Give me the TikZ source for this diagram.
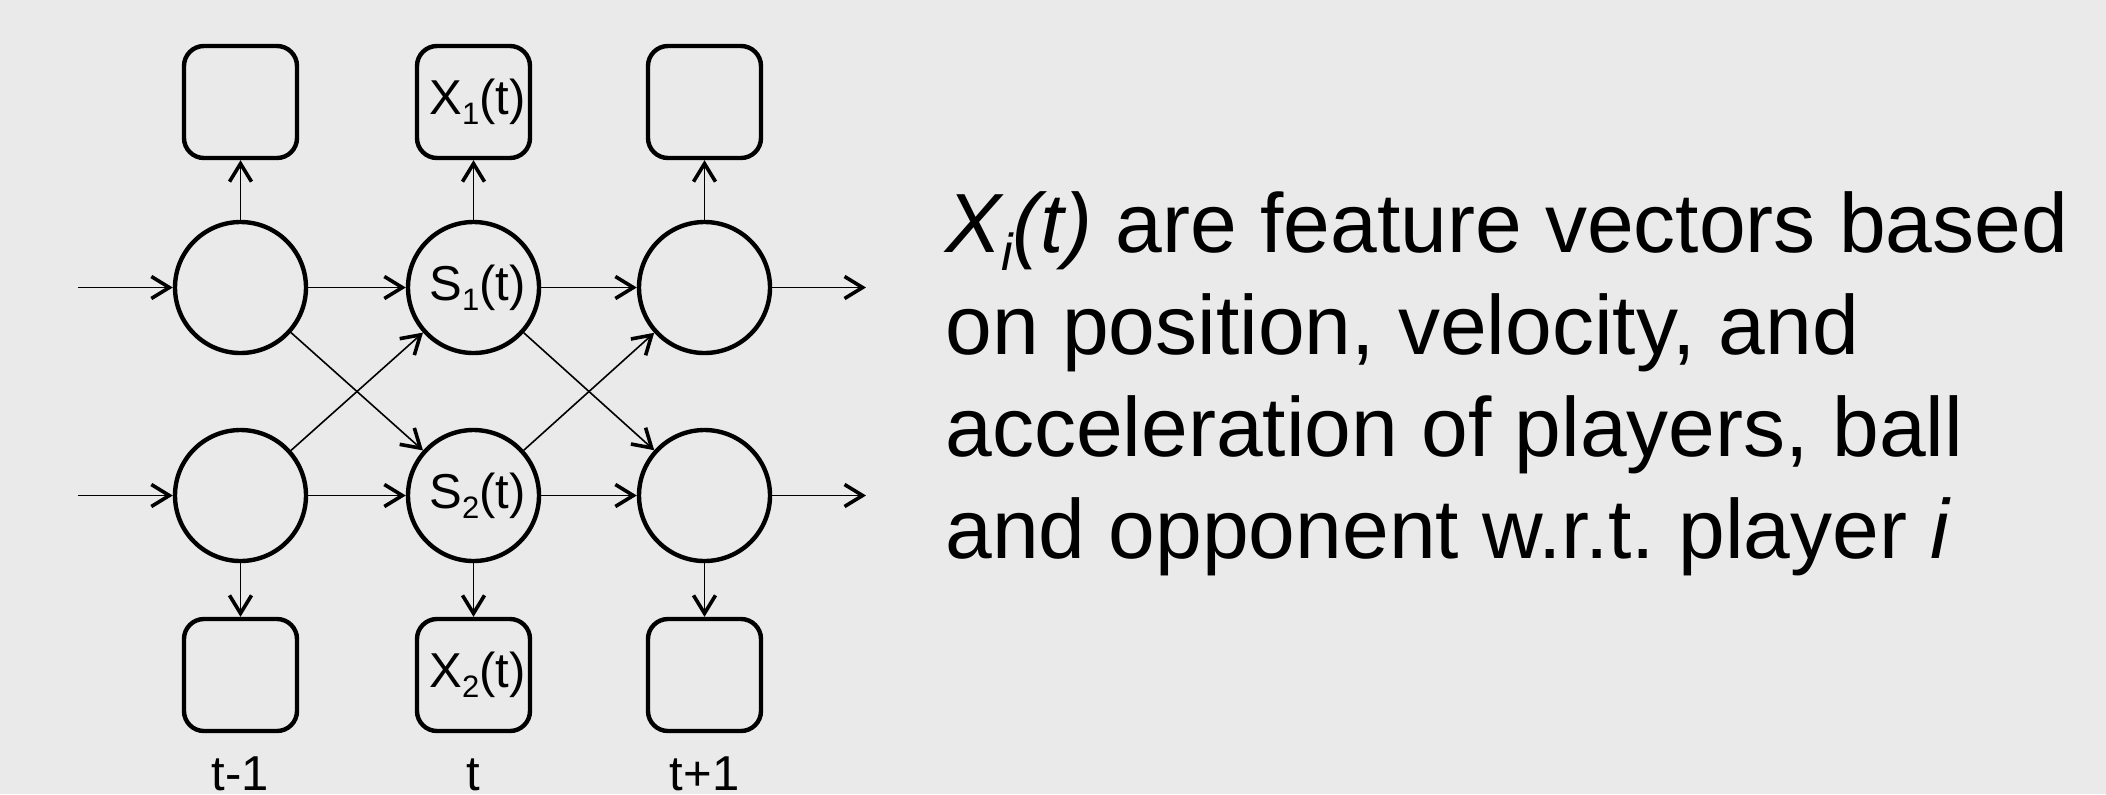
\documentclass[tikz,border=0pt]{standalone}
\usepackage{fontspec}
\setmainfont{Liberation Sans}
\usetikzlibrary{arrows.meta}
\definecolor{bg}{HTML}{EAEAEA}
\frenchspacing
\newcommand\smsub[1]{\raisebox{-5pt}{\fontsize{15.5}{16}\selectfont #1}}
\newcommand\bigsub[1]{\raisebox{-9pt}{\fontsize{26}{28}\selectfont #1}}
\begin{document}
\begin{tikzpicture}[x=0.5pt,y=-0.5pt,
  state/.style={circle,draw,line width=2.2pt,minimum size=65.5pt,inner sep=0pt,font=\fontsize{24.5}{28}\selectfont},
  obs/.style={rectangle,rounded corners=10pt,draw,line width=2.2pt,minimum width=56.5pt,minimum height=56pt,inner sep=0pt,font=\fontsize{24.5}{28}\selectfont},
  arr/.style={line width=0.8pt,-{Straight Barb[length=9pt,width=11pt,line width=1.8pt]}},
  lbl/.style={anchor=base,font=\fontsize{24.5}{28}\selectfont},
  txt/.style={anchor=base west,font=\fontsize{42}{51}\selectfont,inner sep=0pt}]
\fill[bg] (0,0) rectangle (2106,794);
\useasboundingbox (0,0) rectangle (2106,794);
% states
\node[state] (a1) at (240.5,287.5) {};
\node[state] (b1) at (473.5,287.5) {\hspace{4pt}S\smsub{1}(t)};
\node[state] (c1) at (704.5,287.5) {};
\node[state] (a2) at (240.5,495.5) {};
\node[state] (b2) at (473.5,495.5) {\hspace{4pt}S\smsub{2}(t)};
\node[state] (c2) at (704.5,495.5) {};
% observations
\node[obs] (oa1) at (240.5,102) {};
\node[obs] (ob1) at (473.5,102) {\hspace{4pt}X\smsub{1}(t)};
\node[obs] (oc1) at (704.5,102) {};
\node[obs] (oa2) at (240.5,675) {};
\node[obs] (ob2) at (473.5,675) {\hspace{4pt}X\smsub{2}(t)};
\node[obs] (oc2) at (704.5,675) {};
% free ends
\coordinate (in1) at (78,287.5);
\coordinate (in2) at (78,495.5);
\coordinate (out1) at (866,287.5);
\coordinate (out2) at (866,495.5);
% connectors
\draw[arr] (in1) -- (a1);
\draw[arr] (a1) -- (b1);
\draw[arr] (b1) -- (c1);
\draw[arr] (c1) -- (out1);
\draw[arr] (in2) -- (a2);
\draw[arr] (a2) -- (b2);
\draw[arr] (b2) -- (c2);
\draw[arr] (c2) -- (out2);
\draw[arr] (a1) -- (b2);
\draw[arr] (a2) -- (b1);
\draw[arr] (b1) -- (c2);
\draw[arr] (b2) -- (c1);
\draw[arr] (a1) -- (oa1);
\draw[arr] (b1) -- (ob1);
\draw[arr] (c1) -- (oc1);
\draw[arr] (a2) -- (oa2);
\draw[arr] (b2) -- (ob2);
\draw[arr] (c2) -- (oc2);
% time labels
\node[lbl] (l1) at (240.5,790) {t-1};
\node[lbl] (l2) at (473.5,790) {t};
\node[lbl] (l3) at (704.5,790) {t+1};
% text
\node[txt] (t1) at (945,252) {\textit{X\bigsub{i}(t)} are feature vectors based};
\node[txt] (t2) at (945,354) {on position, velocity, and};
\node[txt] (t3) at (945,456) {acceleration of players, ball};
\node[txt] (t4) at (945,558) {and opponent w.r.t. player \textit{i}};
\end{tikzpicture}
\end{document}
